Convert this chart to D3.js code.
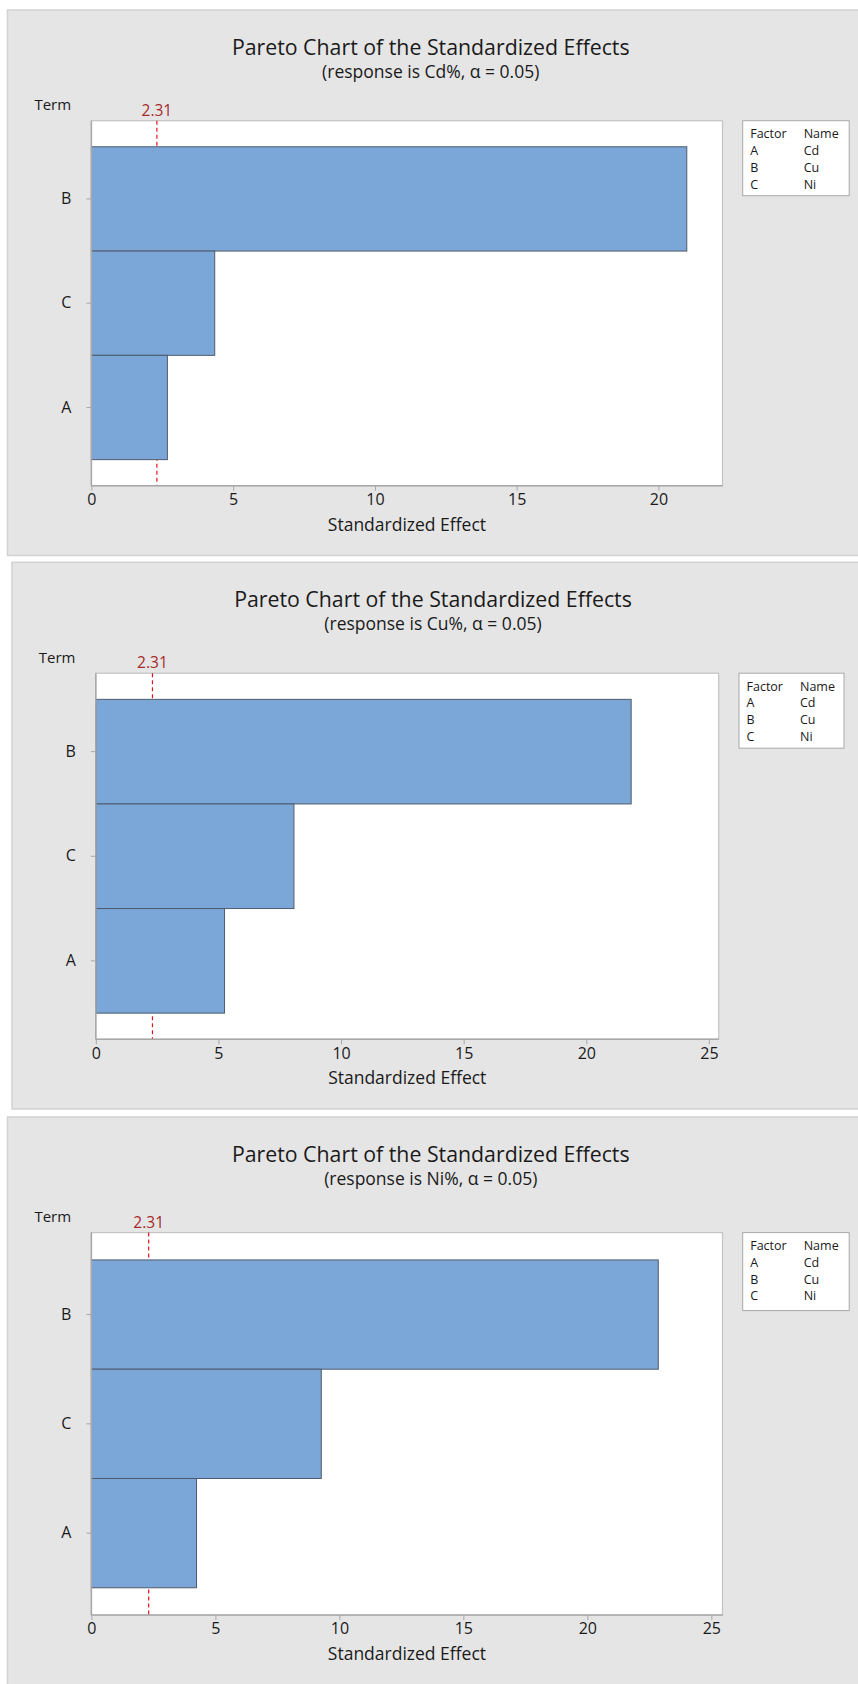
<!DOCTYPE html>
<html>
<head>
<meta charset="utf-8">
<script src="https://cdn.jsdelivr.net/npm/d3@7"></script>
<style>
  html, body { margin: 0; padding: 0; background: #fff; }
  svg { display: block; font-family: "Open Sans", "Noto Sans", sans-serif; }
</style>
</head>
<body>
<svg id="chart" width="858" height="1684"></svg>
<script>
// terms, top to bottom (sorted by effect)
const terms = ['B', 'C', 'A'];
const responses = ['Cd%', 'Cu%', 'Ni%'];
const cdEffects = [21.0, 4.35, 2.68];
const cuEffects = [21.83, 8.08, 5.25];
const niEffects = [22.86, 9.27, 4.24];
const criticalValue = 2.31;
const xTicksCd = [0, 5, 10, 15, 20];
const xTicksCu = [0, 5, 10, 15, 20, 25];
const xTicksNi = [0, 5, 10, 15, 20, 25];
const xMaxes = [22.26, 25.4, 25.45];
const factorCodes = ['A', 'B', 'C'];
const factorNames = ['Cd', 'Cu', 'Ni'];

// layout of the three stacked panels
const panels = [
  { effects: cdEffects, ticks: xTicksCd, left: 7.5, top: 10, bottom: 555.5, pl: 91.4, pr: 722.5, pt: 120.7, pb: 485.7, lx: 742.7, lw: 106.5, lh: 75 },
  { effects: cuEffects, ticks: xTicksCu, left: 12, top: 562.3, bottom: 1109, pl: 95.8, pr: 718.7, pt: 673.2, pb: 1039.3, lx: 739, lw: 105, lh: 75 },
  { effects: niEffects, ticks: xTicksNi, left: 7.5, top: 1117, bottom: 1690, pl: 91.4, pr: 722.5, pt: 1232.6, pb: 1615.1, lx: 742.7, lw: 106.5, lh: 78 }
];

const svg = d3.select('#chart');

panels.forEach((p, i) => {
  const g = svg.append('g');

  // gray backdrop
  g.append('rect')
    .attr('x', p.left).attr('y', p.top)
    .attr('width', 870 - p.left).attr('height', p.bottom - p.top)
    .attr('fill', '#e5e5e5').attr('stroke', '#d2d2d2').attr('stroke-width', 1.5);

  const cx = (p.left + 858) / 2 - 2;
  g.append('text')
    .attr('x', cx).attr('y', p.top + 45)
    .attr('text-anchor', 'middle').attr('font-size', 21.3).attr('fill', '#1a1a1a')
    .text('Pareto Chart of the Standardized Effects');
  g.append('text')
    .attr('x', cx).attr('y', p.top + 67.5)
    .attr('text-anchor', 'middle').attr('font-size', 17.5).attr('fill', '#1a1a1a')
    .text(`(response is ${responses[i]}, α = 0.05)`);

  const x = d3.scaleLinear().domain([0, xMaxes[i]]).range([p.pl, p.pr]);
  const y = d3.scaleBand().domain(terms).range([p.pt, p.pb]).paddingInner(0).paddingOuter(0.25);

  // plot area
  g.append('rect')
    .attr('x', p.pl).attr('y', p.pt)
    .attr('width', p.pr - p.pl).attr('height', p.pb - p.pt)
    .attr('fill', '#fff').attr('stroke', '#c4c4c4').attr('stroke-width', 1.2);

  // critical value line
  g.append('line')
    .attr('x1', x(criticalValue)).attr('x2', x(criticalValue))
    .attr('y1', p.pt).attr('y2', p.pb)
    .attr('stroke', '#e0161e').attr('stroke-width', 1.2)
    .attr('stroke-dasharray', '4,3');
  g.append('text')
    .attr('x', x(criticalValue)).attr('y', p.pt - 5)
    .attr('text-anchor', 'middle').attr('font-size', 15.5).attr('fill', '#a52a2a')
    .text(criticalValue.toFixed(2));

  // bars
  g.selectAll('.bar')
    .data(terms.map((t, k) => ({ term: t, value: p.effects[k] })))
    .enter().append('rect')
    .attr('class', 'bar')
    .attr('x', x(0))
    .attr('y', d => y(d.term))
    .attr('width', d => x(d.value) - x(0))
    .attr('height', y.bandwidth())
    .attr('fill', '#7ba7d8')
    .attr('stroke', '#4f5b6e').attr('stroke-width', 1);

  // axes
  const yAxis = g.append('g')
    .attr('transform', `translate(${p.pl},0)`)
    .call(d3.axisLeft(y).tickSize(5).tickPadding(15));
  const xAxis = g.append('g')
    .attr('transform', `translate(0,${p.pb})`)
    .call(d3.axisBottom(x).tickValues(p.ticks).tickSize(5).tickPadding(3).tickFormat(d3.format('d')));
  [yAxis, xAxis].forEach(a => {
    a.attr('font-size', 16).attr('font-family', '"Open Sans", sans-serif');
    a.select('.domain').attr('stroke', '#a8a8a8').attr('stroke-width', 1.5);
    a.selectAll('.tick line').attr('stroke', '#a8a8a8');
    a.selectAll('.tick text').attr('fill', '#1a1a1a');
  });
  xAxis.select('.domain').attr('d', `M${p.pl},0H${p.pr}`);
  yAxis.select('.domain').attr('d', `M0,${p.pt}V${p.pb}`);

  g.append('text')
    .attr('x', (p.pl + p.pr) / 2).attr('y', p.pb + 45)
    .attr('text-anchor', 'middle').attr('font-size', 17.5).attr('fill', '#1a1a1a')
    .text('Standardized Effect');
  g.append('text')
    .attr('x', p.pl - 57).attr('y', p.pt - 10.7)
    .attr('font-size', 15).attr('fill', '#1a1a1a')
    .text('Term');

  // factor legend
  const lg = g.append('g').attr('transform', `translate(${p.lx},${p.pt})`);
  lg.append('rect')
    .attr('width', p.lw).attr('height', p.lh)
    .attr('fill', '#fff').attr('stroke', '#a8a8a8').attr('stroke-width', 1);
  const rows = [['Factor', 'Name']].concat(factorCodes.map((c, k) => [c, factorNames[k]]));
  rows.forEach((r, k) => {
    lg.append('text').attr('x', 7.5).attr('y', 17.5 + k * 16.8)
      .attr('font-size', 12.5).attr('fill', '#1a1a1a').text(r[0]);
    lg.append('text').attr('x', 61).attr('y', 17.5 + k * 16.8)
      .attr('font-size', 12.5).attr('fill', '#1a1a1a').text(r[1]);
  });
});
</script>
</body>
</html>
